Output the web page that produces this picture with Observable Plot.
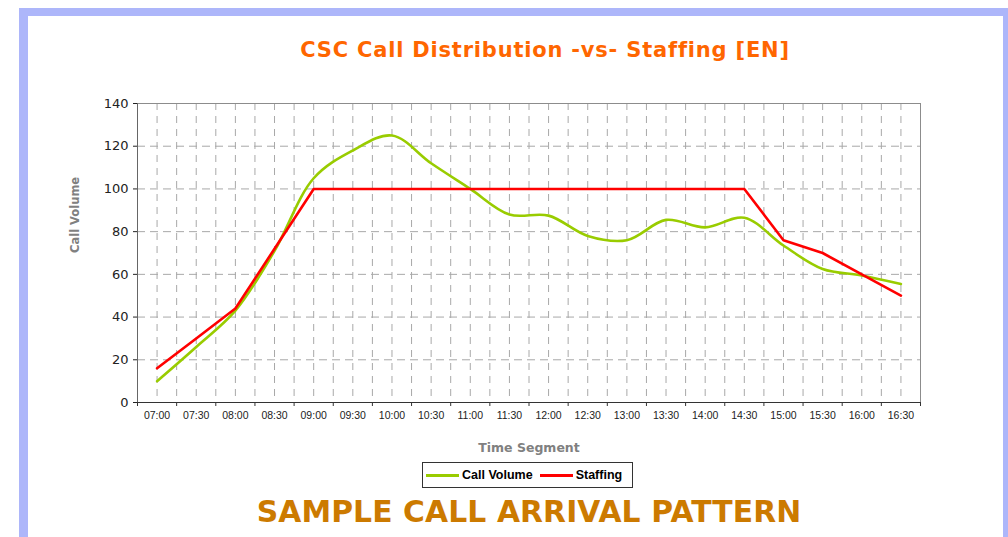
<!DOCTYPE html>
<html>
<head>
<meta charset="utf-8">
<script src="https://cdn.jsdelivr.net/npm/d3@7"></script>
<script src="https://cdn.jsdelivr.net/npm/@observablehq/plot@0.6"></script>
<style>
  html, body { margin: 0; padding: 0; background: #fff; overflow: hidden; width: 1008px; height: 537px; }
  #frame { position: absolute; left: 19px; top: 8px; width: 975px; height: 600px;
           border-left: 9px solid #adb6fa; border-top: 8px solid #adb6fa; border-right: 9px solid #adb6fa; }
  #title { position: absolute; left: 545px; top: 40px; transform: translateX(-50%); white-space: nowrap;
           font-family: "DejaVu Sans", sans-serif; font-weight: bold; font-size: 21px; line-height: 21px;
           letter-spacing: 0.8px; color: #ff6600; }
  #chart { position: absolute; left: 0; top: 0; }
  #legend { position: absolute; left: 422px; top: 462px; width: 211px; height: 26px; box-sizing: border-box;
            border: 1px solid #333; display: flex; align-items: center; background: #fff;
            font-family: "Liberation Sans", Arial, sans-serif; font-weight: bold; font-size: 12.5px; color: #000; }
  .sw { display: inline-block; width: 33px; height: 3px; margin-left: 3px; margin-right: 3px; }
  #bottom { position: absolute; left: 529px; top: 497px; transform: translateX(-50%); white-space: nowrap;
            font-family: "DejaVu Sans", sans-serif; font-weight: bold; font-size: 29.8px; line-height: 29.8px;
            letter-spacing: 0.1px; color: #cc7a00; }
</style>
</head>
<body>
<div id="frame"></div>
<div id="chart"></div>
<div id="title">CSC Call Distribution -vs- Staffing [EN]</div>
<div id="legend"></div>
<div id="bottom">SAMPLE CALL ARRIVAL PATTERN</div>
<script>
const times = ["07:00","07:30","08:00","08:30","09:00","09:30","10:00","10:30","11:00","11:30",
               "12:00","12:30","13:00","13:30","14:00","14:30","15:00","15:30","16:00","16:30"];
const callVolume = [10, 26, 43, 71, 105, 118, 125, 112, 100, 88, 87.5, 78, 76, 85.5, 82, 86.5, 73.5, 62.5, 59.5, 55.5];
const staffing   = [16, 30, 44, 72, 100, 100, 100, 100, 100, 100, 100, 100, 100, 100, 100, 100, 76, 70, 60, 50];
const seriesNames = ["Call Volume", "Staffing"];
const seriesColors = ["#99cc00", "#ff0000"];
const yTicks = [0, 20, 40, 60, 80, 100, 120, 140];

const data = times.map((t, i) => ({i, t, calls: callVolume[i], staff: staffing[i]}));
const halfSteps = d3.range(-0.5, times.length, 0.5);
const boundaries = d3.range(-0.5, times.length, 1);

const chart = Plot.plot({
  width: 1008, height: 470,
  marginLeft: 137, marginRight: 88, marginTop: 103, marginBottom: 68,
  x: {domain: [-0.5, times.length - 0.5]},
  y: {domain: [0, 140]},
  style: {background: "transparent", fontFamily: "DejaVu Sans"},
  marks: [
    Plot.gridY(yTicks.slice(1), {stroke: "#a8a8a8", strokeOpacity: 1, strokeDasharray: "8,5"}),
    Plot.gridX(halfSteps, {stroke: "#a8a8a8", strokeOpacity: 1, strokeDasharray: "7,6"}),
    Plot.frame({stroke: "#8c8c8c"}),
    Plot.axisY(yTicks, {tickSize: 4, tickPadding: 5, fontSize: 13, color: "#222", label: null}),
    Plot.axisX(boundaries, {tickSize: 4, tickFormat: () => "", label: null, color: "#333"}),
    Plot.axisX(d3.range(times.length), {tickSize: 0, tickPadding: 9, tickFormat: i => times[i],
      fontSize: 10.5, fontFamily: "Liberation Sans", color: "#222", label: null}),
    Plot.ruleX([-0.5], {stroke: "#666"}),
    Plot.ruleY([0], {stroke: "#333"}),
    Plot.line(data, {x: "i", y: "calls", curve: "catmull-rom", stroke: seriesColors[0], strokeWidth: 2.6}),
    Plot.line(data, {x: "i", y: "staff", stroke: seriesColors[1], strokeWidth: 2.6}),
    Plot.text(["Call Volume"], {frameAnchor: "left", dx: -62, rotate: -90, text: d => d,
      fontWeight: "bold", fontSize: 11.5, fill: "#808080"}),
    Plot.text(["Time Segment"], {frameAnchor: "bottom", dy: 49, text: d => d,
      fontWeight: "bold", fontSize: 12.5, fill: "#808080"})
  ]
});
document.getElementById("chart").appendChild(chart);

const legend = document.getElementById("legend");
seriesNames.forEach((name, k) => {
  const sw = document.createElement("span");
  sw.className = "sw";
  sw.style.background = seriesColors[k];
  legend.appendChild(sw);
  const lab = document.createElement("span");
  lab.textContent = name;
  lab.style.marginRight = k === 0 ? "4px" : "0";
  legend.appendChild(lab);
});
</script>
</body>
</html>
